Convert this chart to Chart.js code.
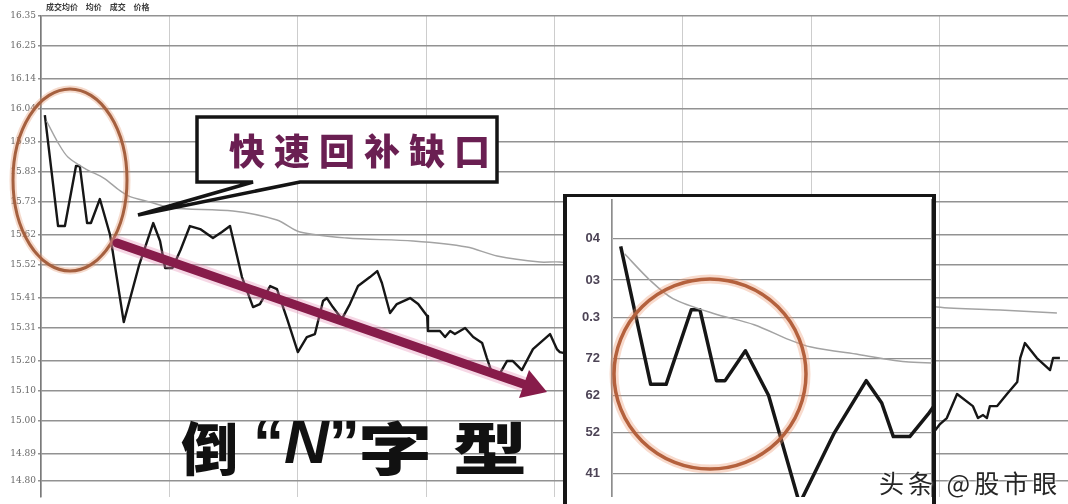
<!DOCTYPE html>
<html lang="zh">
<head>
  <meta charset="UTF-8" />
  <title>倒N字型 分时图</title>
  <script src="https://cdn.jsdelivr.net/npm/chart.js"></script>
  <style>
    body {
      margin: 0;
      background: #ffffff;
      width: 1068px;
      height: 504px;
      overflow: hidden;
      position: relative;
      font-family: 'Noto Sans CJK SC', 'DejaVu Sans', sans-serif;
    }
    #mainChart { position: absolute; left: 0; top: 0; }
    .inset {
      position: absolute;
      left: 563px;
      top: 194px;
      width: 365px;
      height: 307px;
      background: #fff;
      border-left: 4px solid #161616;
      border-right: 4px solid #161616;
      border-top: 3px solid #161616;
    }
    .inset canvas { position: absolute; left: 0; top: 0; }
    svg.overlay { position: absolute; left: 0; top: 0; }
    .top-title {
      position: absolute; left: 46px; top: 1px;
      font-size: 8px; font-weight: bold; color: #3a3a3a;
      word-spacing: 6px;
    }
    .callout-text {
      position: absolute; left: 229px; top: 117px; height: 65px;
      line-height: 65px; white-space: nowrap;
      font-size: 36px; font-weight: 900; letter-spacing: 9px;
      color: #6a1f52;
    }
    .big { position: absolute; font-weight: 900; line-height: 1; color: #111; white-space: nowrap; font-size: 57px; }
    .big.q { font-family: 'Liberation Sans', sans-serif; font-weight: bold; font-size: 62px; }
    .big.q i { font-weight: bold; }
    .big.stretch { transform: scaleX(1.3); transform-origin: left top; letter-spacing: 16px; }
    .watermark {
      position: absolute; left: 879px; top: 464px;
      font-size: 25px; color: #262626; letter-spacing: 4px;
      text-shadow: 0 0 3px #fff, 0 0 3px #fff;
    }
  </style>
</head>
<body>

  <canvas id="mainChart" width="1068" height="504"></canvas>

  <div class="inset">
    <canvas id="insetChart" width="365" height="300"></canvas>
  </div>

  <svg class="overlay" width="1068" height="504">
    <!-- left ellipse around the gap -->
    <ellipse cx="70" cy="180" rx="57" ry="91" fill="none" stroke="rgba(225,150,110,0.35)" stroke-width="7" />
    <ellipse cx="70" cy="180" rx="57" ry="91" fill="none" stroke="#a5603f" stroke-width="3" />
    <!-- callout box with tail -->
    <polygon points="197,117 497,117 497,182 300,182 138,215 253,182 197,182"
             fill="#fff" stroke="#141414" stroke-width="3.5" stroke-linejoin="miter" />
    <!-- down arrow -->
    <line x1="117" y1="243" x2="526" y2="385" stroke="rgba(230,140,180,0.35)" stroke-width="15" stroke-linecap="round" />
    <line x1="117" y1="243" x2="526" y2="385" stroke="#871c4a" stroke-width="9" stroke-linecap="round" />
    <polygon points="547,392 529,370 519,398" fill="#871c4a" />
    <!-- circle in the inset -->
    <ellipse cx="710" cy="374" rx="96" ry="95" fill="none" stroke="rgba(235,150,110,0.35)" stroke-width="9" />
    <ellipse cx="710" cy="374" rx="96" ry="95" fill="none" stroke="#b4613d" stroke-width="3.5" />
  </svg>

  <div class="top-title">成交均价 均价 成交 价格</div>
  <div class="callout-text">快速回补缺口</div>
  <div class="big" style="left:181px; top:417px;">倒</div>
  <div class="big q" style="left:253px; top:411px;">“<i>N</i>”</div>
  <div class="big stretch" style="left:358px; top:417px;">字型</div>
  <div class="watermark">头条 @股市眼</div>

  <script>
    // price line (minutes from open, price)
    const priceMinutes = [0.9, 4.0, 5.6, 8.2, 9.1, 10.8, 11.7, 13.8, 16.2, 19.4, 23.0, 26.3, 27.9, 29.1, 30.8, 32.7,
      34.9, 37.3, 40.3, 42.4, 44.3, 47.1, 49.7, 51.3, 53.7, 55.3, 57.7, 60.2, 62.3, 64.2, 66.1, 67.0, 68.4, 70.5,
      72.4, 74.3, 77.1, 78.8, 79.9, 81.8, 83.4, 86.5, 88.4, 90.5, 90.7, 93.5, 94.7, 95.9, 97.0, 99.4, 101.3, 103.4,
      104.5, 105.7, 107.6, 109.2, 110.6, 112.7, 115.3, 119.3, 120.9, 121.6,
      209.1, 210.7, 212.3, 214.7, 218.4, 219.6, 220.8, 221.7, 222.4, 224.1, 226.4, 228.8, 229.5, 230.6, 233.4,
      236.5, 237.2, 238.8];
    const prices = [16.02, 15.65, 15.65, 15.85, 15.85, 15.66, 15.66, 15.74, 15.62, 15.33, 15.52, 15.66, 15.60, 15.51, 15.51, 15.57,
      15.65, 15.64, 15.61, 15.63, 15.65, 15.48, 15.38, 15.39, 15.45, 15.44, 15.34, 15.23, 15.28, 15.29, 15.40, 15.41, 15.38, 15.34,
      15.39, 15.45, 15.48, 15.50, 15.46, 15.36, 15.39, 15.41, 15.39, 15.35, 15.30, 15.30, 15.28, 15.30, 15.29, 15.31, 15.28, 15.26,
      15.21, 15.16, 15.16, 15.20, 15.20, 15.17, 15.24, 15.29, 15.24, 15.23,
      14.96, 14.99, 15.01, 15.09, 15.05, 15.01, 15.02, 15.01, 15.05, 15.05, 15.09, 15.13, 15.21, 15.26, 15.21,
      15.17, 15.21, 15.21];

    // average price line
    const avgMinutes = [1.3, 3.9, 6.3, 10.5, 14.7, 18.3, 20.6, 25.5, 30.7, 45.0, 55.3, 60.7, 71.7, 87.2, 99.8, 106.9, 117.0, 121.6,
      210.0, 224.8, 238.1];
    const avgPrices = [16.00, 15.93, 15.88, 15.84, 15.81, 15.77, 15.75, 15.73, 15.71, 15.70, 15.67, 15.63, 15.61, 15.60, 15.58, 15.55, 15.53, 15.53,
      15.38, 15.37, 15.36];

    // axis ticks
    const yTicks = [16.35, 16.25, 16.14, 16.04, 15.93, 15.83, 15.73, 15.62, 15.52, 15.41, 15.31, 15.20, 15.10, 15.00, 14.89, 14.80];
    const insetTicks = [16.04, 15.93, 15.83, 15.72, 15.62, 15.52, 15.41];
    const insetTickLabels = ['04', '03', '0.3', '72', '62', '52', '41'];

    const pricePoints = priceMinutes.map((m, i) => ({ x: m, y: prices[i] }));
    const avgPoints = avgMinutes.map((m, i) => ({ x: m, y: avgPrices[i] }));

    function lineSets(priceWidth, avgWidth) {
      return [
        { data: avgPoints, borderColor: '#a3a3a3', borderWidth: avgWidth, pointRadius: 0, tension: 0.3 },
        { data: pricePoints, borderColor: '#161616', borderWidth: priceWidth, pointRadius: 0, tension: 0, borderJoinStyle: 'round' }
      ];
    }

    // keep tick labels from pushing the plot area in
    function noLabelPadding(s) {
      s.paddingTop = 0;
      s.paddingBottom = 0;
    }

    // full-day chart
    new Chart(document.getElementById('mainChart'), {
      type: 'line',
      data: { datasets: lineSets(2.4, 1.4) },
      options: {
        responsive: false,
        animation: false,
        layout: { padding: { top: 16, right: 0, left: 0, bottom: 0 } },
        plugins: { legend: { display: false }, tooltip: { enabled: false } },
        scales: {
          x: {
            type: 'linear', min: 0, max: 240.7,
            ticks: { display: false, stepSize: 30 },
            grid: { color: '#cdcdcd', lineWidth: 1, drawTicks: false },
            border: { display: false },
            afterFit(s) { s.height = 7; }
          },
          y: {
            min: 14.747, max: 16.35,
            afterBuildTicks(s) { s.ticks = yTicks.map(v => ({ value: v })); },
            ticks: { callback: v => v.toFixed(2), font: { size: 9, family: 'DejaVu Serif' }, color: '#6a6a6a', padding: 2 },
            grid: { color: '#929292', lineWidth: 1.4, tickLength: 3 },
            border: { color: '#7a7a7a', width: 1.5 },
            afterFit(s) { s.width = 41; noLabelPadding(s); }
          }
        }
      }
    });

    // zoomed first half hour
    new Chart(document.getElementById('insetChart'), {
      type: 'line',
      data: { datasets: lineSets(3.5, 1.5) },
      options: {
        responsive: false,
        animation: false,
        layout: { padding: { top: 2, right: 0, left: 0, bottom: 0 } },
        plugins: { legend: { display: false }, tooltip: { enabled: false } },
        scales: {
          x: {
            type: 'linear', min: 0, max: 33.1,
            ticks: { display: false, stepSize: 30 },
            grid: { color: '#8d8d8d', lineWidth: 1.2, drawTicks: false },
            border: { display: false },
            afterFit(s) { s.height = 0; s.paddingLeft = 0; s.paddingRight = 0; }
          },
          y: {
            min: 15.348, max: 16.147,
            afterBuildTicks(s) { s.ticks = insetTicks.map(v => ({ value: v })); },
            ticks: {
              callback: (v, i) => insetTickLabels[i],
              font: { size: 13, weight: 'bold' }, color: '#4d4456', padding: 12
            },
            grid: { color: '#8f8f8f', lineWidth: 1.3, drawTicks: false },
            border: { color: '#b0b0b0', width: 1 },
            afterFit(s) { s.width = 45; noLabelPadding(s); }
          }
        }
      }
    });
  </script>

</body>
</html>
